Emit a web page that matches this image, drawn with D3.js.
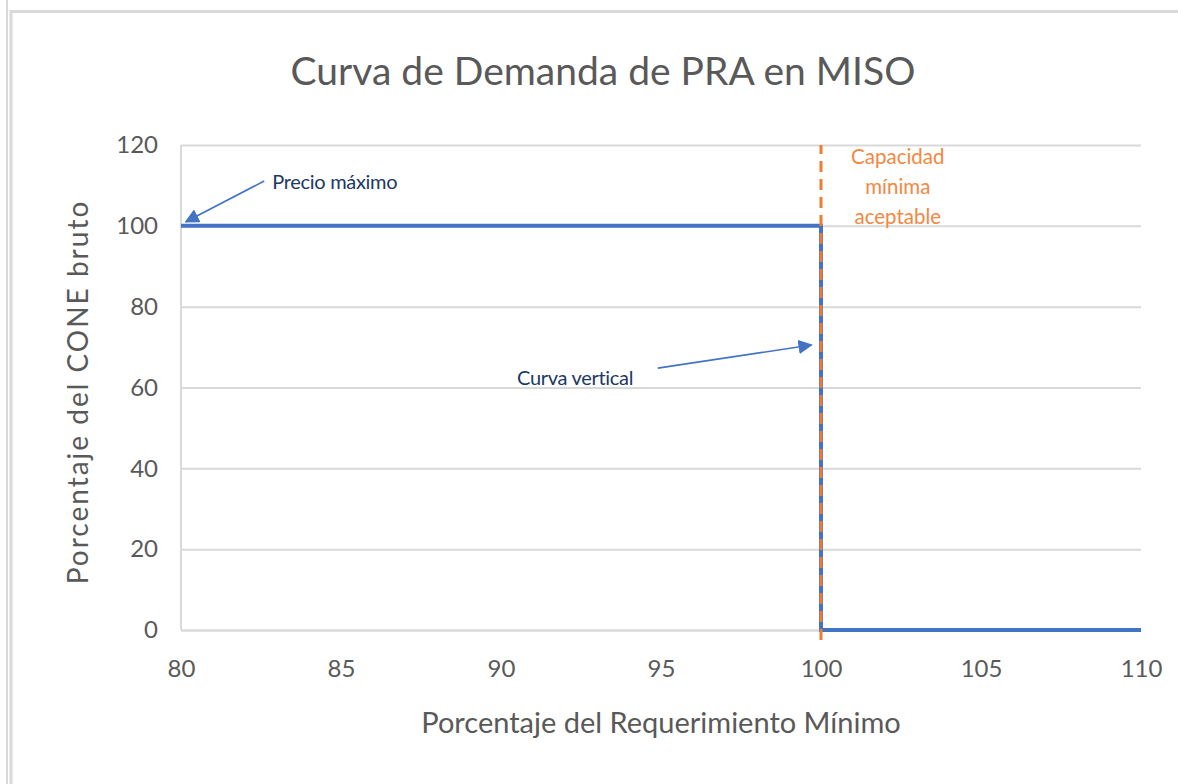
<!DOCTYPE html>
<html>
<head>
<meta charset="utf-8">
<script src="https://cdn.jsdelivr.net/npm/d3@7"></script>
<style>
  body { margin: 0; background: #fff; }
  text { font-family: Lato, "Open Sans", sans-serif; }
</style>
</head>
<body>
<div id="chart"></div>
<script>
// curva de demanda (porcentaje requerimiento, porcentaje CONE)
var demandX = [80, 100, 100, 110];
var demandY = [100, 100, 0, 0];
// linea de capacidad minima aceptable
var minCapX = [100, 100];
var minCapY = [-2.5, 120];

var xTicks = [80, 85, 90, 95, 100, 105, 110];
var yTicks = [0, 20, 40, 60, 80, 100, 120];

var titleText = 'Curva de Demanda de PRA en MISO';
var xTitle = 'Porcentaje del Requerimiento Mínimo';
var yTitle = 'Porcentaje del CONE bruto';
var capLabel = ['Capacidad', 'mínima', 'aceptable'];

// anotaciones: texto, inicio y fin de la flecha (coordenadas de datos)
var notes = [
  {text: 'Precio máximo', tx: 82.85, ty: 109, from: [82.6, 111.1], to: [80.15, 101]},
  {text: 'Curva vertical', tx: 90.5, ty: 60.7, from: [94.9, 64.8], to: [99.7, 70.5]}
];

var W = 1178, H = 784;
var margin = {top: 145, right: 37, bottom: 154, left: 181};
var width = W - margin.left - margin.right;
var height = H - margin.top - margin.bottom;

var svg = d3.select('#chart').append('svg')
    .attr('width', W)
    .attr('height', H);

// marco gris del documento
svg.append('line').attr('x1', 10).attr('x2', W).attr('y1', 11.5).attr('y2', 11.5)
    .attr('stroke', '#d9d9d9').attr('stroke-width', 3);
svg.append('line').attr('x1', 7).attr('x2', 7).attr('y1', 0).attr('y2', H)
    .attr('stroke', '#d9d9d9').attr('stroke-width', 2);
svg.append('line').attr('x1', 11).attr('x2', 11).attr('y1', 10).attr('y2', H)
    .attr('stroke', '#d9d9d9').attr('stroke-width', 3);

var defs = svg.append('defs');
defs.append('marker')
    .attr('id', 'arrow')
    .attr('viewBox', '0 0 10 10')
    .attr('refX', 9).attr('refY', 5)
    .attr('markerWidth', 9).attr('markerHeight', 9)
    .attr('markerUnits', 'strokeWidth')
    .attr('orient', 'auto')
  .append('path')
    .attr('d', 'M0,0 L10,5 L0,10 Z')
    .attr('fill', '#4472c4');

var g = svg.append('g').attr('transform', 'translate(' + margin.left + ',' + margin.top + ')');

var x = d3.scaleLinear().domain([80, 110]).range([0, width]);
var y = d3.scaleLinear().domain([0, 120]).range([height, 0]);

// rejilla
g.append('g')
    .call(d3.axisLeft(y).tickValues(yTicks).tickSize(-width).tickFormat(''))
    .call(function(s){ s.select('.domain').remove(); })
    .selectAll('line').attr('stroke', '#d9d9d9').attr('stroke-width', 2);

// eje vertical
g.append('line').attr('x1', 0).attr('x2', 0).attr('y1', 0).attr('y2', height)
    .attr('stroke', '#d9d9d9').attr('stroke-width', 2);

var yAxis = g.append('g')
    .call(d3.axisLeft(y).tickValues(yTicks).tickSize(0).tickPadding(23));
yAxis.select('.domain').remove();
yAxis.selectAll('text')
    .attr('fill', '#595959')
    .style('font-size', '24px');

var xAxis = g.append('g')
    .attr('transform', 'translate(0,' + height + ')')
    .call(d3.axisBottom(x).tickValues(xTicks).tickSize(0).tickPadding(30));
xAxis.select('.domain').attr('stroke', '#d9d9d9').attr('stroke-width', 2);
xAxis.selectAll('text')
    .attr('fill', '#595959')
    .style('font-size', '24px');

var line = d3.line()
    .x(function(d){ return x(d[0]); })
    .y(function(d){ return y(d[1]); });

g.append('path')
    .datum(demandX.map(function(v, i){ return [v, demandY[i]]; }))
    .attr('d', line)
    .attr('fill', 'none')
    .attr('stroke', '#4472c4')
    .attr('stroke-width', 4);

g.append('path')
    .datum(minCapX.map(function(v, i){ return [v, minCapY[i]]; }))
    .attr('d', line)
    .attr('fill', 'none')
    .attr('stroke', '#ed7d31')
    .attr('stroke-width', 3)
    .attr('stroke-dasharray', '11,7');

// texto capacidad
g.append('text')
    .attr('x', x(102.4))
    .attr('y', y(115.3))
    .attr('text-anchor', 'middle')
    .attr('fill', '#f4873f')
    .style('font-size', '20.5px')
    .selectAll('tspan')
    .data(capLabel)
    .enter().append('tspan')
    .attr('x', x(102.4))
    .attr('dy', function(d, i){ return i === 0 ? 0 : 30; })
    .text(function(d){ return d; });

// anotaciones con flecha
notes.forEach(function(n){
  g.append('line')
      .attr('x1', x(n.from[0])).attr('y1', y(n.from[1]))
      .attr('x2', x(n.to[0])).attr('y2', y(n.to[1]))
      .attr('stroke', '#4472c4')
      .attr('stroke-width', 1.6)
      .attr('marker-end', 'url(#arrow)');
  g.append('text')
      .attr('x', x(n.tx)).attr('y', y(n.ty))
      .attr('fill', '#203864')
      .style('font-size', '20px')
      .style('letter-spacing', '-0.3px')
      .text(n.text);
});

// titulos
svg.append('text')
    .attr('x', 603).attr('y', 85)
    .attr('text-anchor', 'middle')
    .attr('fill', '#595959')
    .style('font-size', '39px')
    .text(titleText);

svg.append('text')
    .attr('x', 661).attr('y', 733)
    .attr('text-anchor', 'middle')
    .attr('fill', '#595959')
    .style('font-size', '29px')
    .text(xTitle);

svg.append('text')
    .attr('transform', 'translate(88,392) rotate(-90)')
    .attr('text-anchor', 'middle')
    .attr('fill', '#595959')
    .style('font-size', '28px')
    .style('letter-spacing', '2px')
    .text(yTitle);
</script>
</body>
</html>
